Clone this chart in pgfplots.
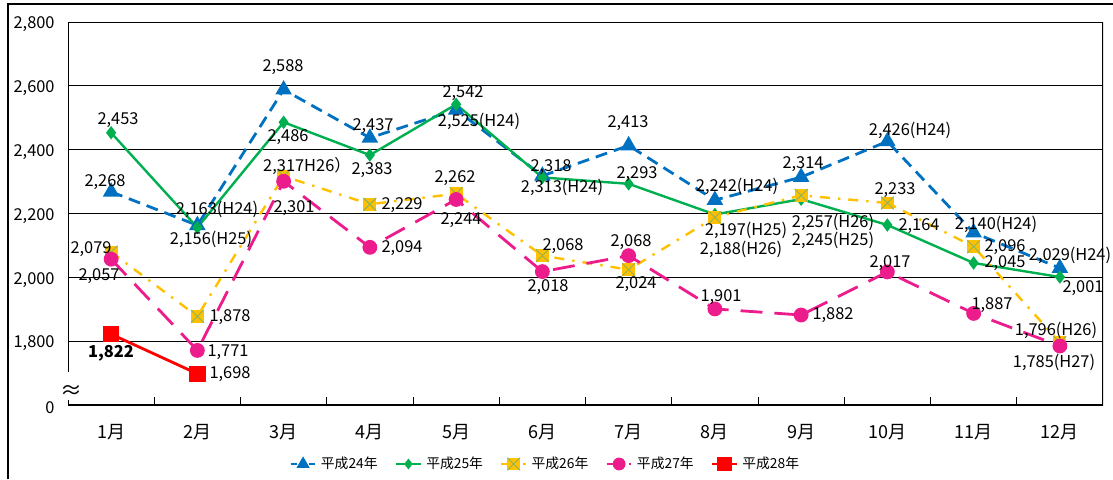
\documentclass[border=0pt]{standalone}
\usepackage{pgfplots}
\pgfplotsset{compat=1.18}
\usepackage{fontspec}
\setmainfont{Noto Sans CJK JP}
\definecolor{h24}{HTML}{0070C0}
\definecolor{h25}{HTML}{00B050}
\definecolor{h26}{HTML}{FFC000}
\definecolor{h27}{HTML}{EC1C8C}
\definecolor{h28}{HTML}{FF0000}
\definecolor{xgrn}{HTML}{8DB45A}
\pgfdeclareplotmark{sqx}{%
  \pgfsetfillcolor{h26}%
  \pgfpathrectangle{\pgfpoint{-\pgfplotmarksize}{-\pgfplotmarksize}}{\pgfpoint{2\pgfplotmarksize}{2\pgfplotmarksize}}%
  \pgfusepath{fill}%
  \pgfsetstrokecolor{xgrn}\pgfsetlinewidth{0.45pt}\pgfsetdash{}{0pt}%
  \pgfpathmoveto{\pgfpoint{-\pgfplotmarksize}{-\pgfplotmarksize}}\pgfpathlineto{\pgfpoint{\pgfplotmarksize}{\pgfplotmarksize}}%
  \pgfpathmoveto{\pgfpoint{-\pgfplotmarksize}{\pgfplotmarksize}}\pgfpathlineto{\pgfpoint{\pgfplotmarksize}{-\pgfplotmarksize}}%
  \pgfusepath{stroke}}
\newcommand\lf{\fontsize{8.2}{9}\selectfont}
\pgfplotsset{leg/.style n args={4}{legend image code/.code={%
  \path[draw=#1,line width=1.3pt,#2] (0cm,0cm) -- (0.44cm,0cm);
  \path[draw=#1,fill=#1,solid,line width=0.4pt] plot[mark=#3,mark size=#4] coordinates {(0.22cm,0cm)};}}}
\begin{document}
\begin{tikzpicture}
\useasboundingbox (0,0) rectangle (556.5pt,239.5pt);
\draw[line width=0.6pt] (4pt,0) -- (4pt,237.5pt) -- (556.5pt,237.5pt);
\begin{axis}[
  scale only axis, width=517.5pt, height=191.5pt,
  at={(34pt,37pt)}, anchor=south west,
  xmin=0.5, xmax=12.5, ymin=1600, ymax=2800,
  axis line style={draw=none},
  xtick={1,...,12},
  xticklabels={1月,2月,3月,4月,5月,6月,7月,8月,9月,10月,11月,12月},
  xtick style={draw=none},
  xticklabel style={font=\fontsize{9}{10}\selectfont, anchor=center, yshift=-13.5pt},
  extra x ticks={1.5,2.5,...,11.5},
  extra x tick labels={},
  extra x tick style={tick align=inside, major tick length=4pt, xtick style={draw=black, line width=0.5pt}},
  tick pos=left,
  ytick={1600,1800,...,2800},
  yticklabels={{0},{1,800},{2,000},{2,200},{2,400},{2,600},{2,800}},
  ytick style={draw=none},
  yticklabel style={font=\lf, anchor=east, inner sep=0pt, xshift=-6.5pt, yshift=-1.2pt},
  ymajorgrids, grid style={black, line width=0.5pt},
  legend style={at={(0.462,-0.154)}, anchor=center, draw=none,
    legend columns=5, font=\fontsize{6.9}{8}\selectfont, inner sep=0pt,
    /tikz/every even column/.append style={column sep=6.5pt}},
]
\addplot[h24, line width=1.4pt, dash pattern=on 6pt off 3.5pt, mark=triangle*, mark size=3.4pt, mark options={solid},
  leg={h24}{dash pattern=on 3pt off 1.5pt}{triangle*}{3.4pt}]
 coordinates {(1,2268)(2,2163)(3,2588)(4,2437)(5,2525)(6,2318)(7,2413)(8,2242)(9,2314)(10,2426)(11,2140)(12,2029)};
\addlegendentry{平成24年}
\addplot[h25, line width=1.2pt, mark=diamond*, mark size=2.4pt, mark options={solid},
  leg={h25}{solid}{diamond*}{2.4pt}]
 coordinates {(1,2453)(2,2156)(3,2486)(4,2383)(5,2542)(6,2313)(7,2293)(8,2197)(9,2245)(10,2164)(11,2045)(12,2001)};
\addlegendentry{平成25年}
\addplot[h26, line width=1.2pt, dash pattern=on 5pt off 4pt on 1.2pt off 4pt, mark=sqx, mark size=3.2pt, mark options={solid},
  leg={h26}{dash pattern=on 4pt off 7pt on 1.2pt off 7pt}{sqx}{3.2pt}]
 coordinates {(1,2079)(2,1878)(3,2317)(4,2229)(5,2262)(6,2068)(7,2024)(8,2188)(9,2257)(10,2233)(11,2096)(12,1796)};
\addlegendentry{平成26年}
\addplot[h27, line width=1.4pt, dash pattern=on 11pt off 6pt, mark=*, mark size=3pt, mark options={solid},
  leg={h27}{dash pattern=on 4pt off 7pt on 1.2pt off 7pt}{*}{3pt}]
 coordinates {(1,2057)(2,1771)(3,2301)(4,2094)(5,2244)(6,2018)(7,2068)(8,1901)(9,1882)(10,2017)(11,1887)(12,1785)};
\addlegendentry{平成27年}
\addplot[h28, line width=1.4pt, mark=square*, mark size=3.4pt, mark options={solid},
  leg={h28}{solid}{square*}{3.4pt}]
 coordinates {(1,1822)(2,1698)};
\addlegendentry{平成28年}
\draw[black, line width=0.8pt] (axis cs:0.5,1703) -- (axis cs:0.5,2800) -- (axis cs:12.5,2800) -- (axis cs:12.5,1600) -- (axis cs:0.5,1600) -- (axis cs:0.5,1616);
\end{axis}
\begin{scope}[x=0.5pt,y=-0.5pt,yshift=239.5pt,font=\lf]
\node[font=\fontsize{11}{11}\selectfont] at (71,392) {≈};
% Jan
\node at (105,182) {2,268};
\node at (118,120) {2,453};
\node at (91,249) {2,079};
\node at (99,276) {2,057};
\node[font=\lf\bfseries] at (111,353) {1,822};
% Feb
\node at (217,209) {2,163(H24)};
\node at (211,239) {2,156(H25)};
\node at (230,317) {1,878};
\node at (228,352) {1,771};
\node at (230,374) {1,698};
% Mar
\node at (283,67) {2,588};
\node at (288,137) {2,486};
\node at (307,166) {2,317H26）};
\node at (294,208) {2,301};
% Apr
\node at (373,126) {2,437};
\node at (372,170) {2,383};
\node at (402,205) {2,229};
\node at (402,248) {2,094};
% May
\node at (463,93) {2,542};
\node at (479,121) {2,525(H24)};
\node at (455,178) {2,262};
\node at (461,220) {2,244};
% Jun
\node at (551,167) {2,318};
\node at (562,187) {2,313(H24)};
\node at (563,246) {2,068};
\node at (548,287) {2,018};
% Jul
\node at (628,123) {2,413};
\node at (637,174) {2,293};
\node at (631,242) {2,068};
\node at (636,284) {2,024};
% Aug
\node at (737,186) {2,242(H24)};
\node at (746,230) {2,197(H25)};
\node at (741,249) {2,188(H26)};
\node at (721,297) {1,901};
% Sep
\node at (803,164) {2,314};
\node at (833,222) {2,257(H26)};
\node at (833,240) {2,245(H25)};
\node at (833,315) {1,882};
% Oct
\node at (910,130) {2,426(H24)};
\node at (895,190) {2,233};
\node at (919,226) {2,164};
\node at (890,263) {2,017};
% Nov
\node at (996,224) {2,140(H24)};
\node at (1005,247) {2,096};
\node at (1005,263) {2,045};
\node at (992,305) {1,887};
% Dec
\node at (1070,255) {2,029(H24)};
\node at (1083,288) {2,001};
\node at (1056,330) {1,796(H26)};
\node at (1054,362) {1,785(H27)};
\end{scope}
\end{tikzpicture}
\end{document}
